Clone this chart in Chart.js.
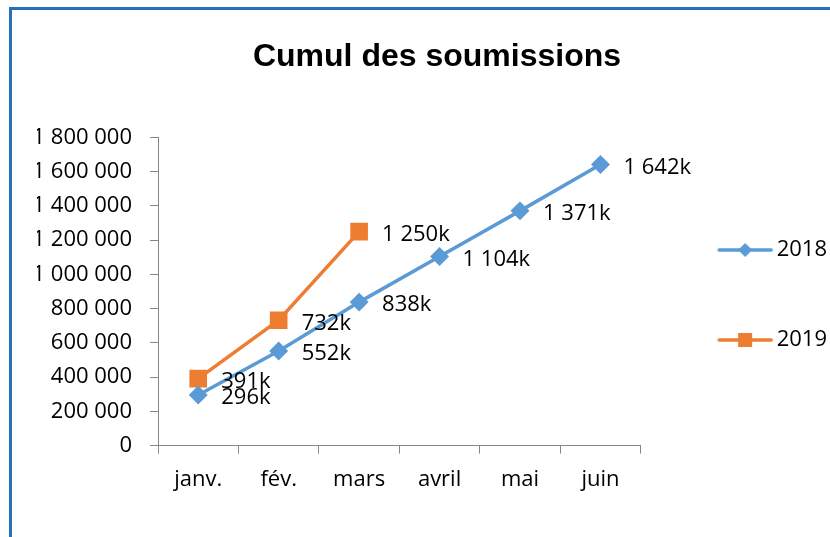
<!DOCTYPE html>
<html>
<head>
<meta charset="utf-8">
<script src="https://cdn.jsdelivr.net/npm/chart.js@4"></script>
<style>
  html, body { margin: 0; padding: 0; background: #fff; overflow: hidden; }
  #frame {
    position: absolute; left: 9px; top: 7px; width: 900px; height: 600px;
    border-left: 3px solid #2471b8; border-top: 3px solid #2471b8;
  }
  #wrap { position: absolute; left: 0; top: 0; width: 837px; height: 537px; }
</style>
</head>
<body>
<div id="frame"></div>
<div id="wrap"><canvas id="chart"></canvas></div>
<script>
// Cumulative submissions per month, 2018 vs 2019
const MONTHS      = ['janv.', 'fév.', 'mars', 'avril', 'mai', 'juin'];
const VALUES_2018 = [296000, 552000, 838000, 1104000, 1371000, 1642000];
const VALUES_2019 = [391000, 732000, 1250000, null, null, null];
const LABELS_2018 = ['296k', '552k', '838k', '1 104k', '1 371k', '1 642k'];
const LABELS_2019 = ['391k', '732k', '1 250k'];
const Y_MAX  = 1800000;
const Y_STEP = 200000;

const BLUE   = '#5b9bd5';
const ORANGE = '#ed7d31';
const FONT   = '"Open Sans", sans-serif';

// group thousands with a plain space: 1800000 -> "1 800 000"
const spaced = v => String(v).replace(/\B(?=(\d{3})+(?!\d))/g, ' ');

// legend swatch = short line with the marker in the middle.
// The image is wider than the legend box so the line sits a bit right of the box start.
function swatch(color, style) {
  const c = document.createElement('canvas');
  c.width = 76; c.height = 16;
  const g = c.getContext('2d');
  g.strokeStyle = color; g.lineWidth = 3.5; g.lineCap = 'round';
  g.beginPath(); g.moveTo(20, 8); g.lineTo(72, 8); g.stroke();
  g.fillStyle = color;
  if (style === 'diamond') {
    g.beginPath(); g.moveTo(46, 1); g.lineTo(53, 8); g.lineTo(46, 15); g.lineTo(39, 8); g.closePath(); g.fill();
  } else {
    g.fillRect(39, 1, 14, 14);
  }
  return c;
}

const valueLabels = {
  id: 'valueLabels',
  afterDatasetsDraw(chart) {
    const ctx = chart.ctx;
    ctx.save();
    ctx.font = '22px ' + FONT;
    ctx.fillStyle = '#000';
    ctx.textAlign = 'left';
    ctx.textBaseline = 'middle';
    chart.data.datasets.forEach((ds, i) => {
      chart.getDatasetMeta(i).data.forEach((pt, j) => {
        if (ds.data[j] == null) return;
        ctx.fillText(ds.valueLabels[j], pt.x + 23, pt.y + 3);
      });
    });
    ctx.restore();
  }
};

new Chart(document.getElementById('chart'), {
  type: 'line',
  data: {
    labels: MONTHS,
    datasets: [
      { label: '2018', data: VALUES_2018, valueLabels: LABELS_2018,
        borderColor: BLUE, backgroundColor: BLUE, borderWidth: 3.5,
        pointStyle: 'rectRot', pointRadius: 7, pointHoverRadius: 7,
        legendImg: swatch(BLUE, 'diamond') },
      { label: '2019', data: VALUES_2019, valueLabels: LABELS_2019,
        borderColor: ORANGE, backgroundColor: ORANGE, borderWidth: 3.5,
        pointStyle: 'rect', pointRadius: 10, pointHoverRadius: 10,
        legendImg: swatch(ORANGE, 'square') },
    ],
  },
  options: {
    responsive: true, maintainAspectRatio: false, animation: false,
    layout: { padding: { left: 37, right: 0, top: 0, bottom: 31 } },
    plugins: {
      title: {
        display: true, text: 'Cumul des soumissions', color: '#000',
        font: { family: '"Liberation Sans", Arial, sans-serif', size: 32, weight: 'bold' },
        padding: { top: 38, bottom: 61 },
      },
      legend: {
        position: 'right',
        title: { display: true, text: ' ', font: { size: 10 }, padding: { top: 0, bottom: 72 } },
        labels: {
          color: '#000', font: { family: FONT, size: 22 },
          usePointStyle: true, pointStyleWidth: 57, padding: 68,
          generateLabels: chart => chart.data.datasets.map((ds, i) => ({
            text: ds.label, datasetIndex: i, pointStyle: ds.legendImg,
            fillStyle: ds.borderColor, strokeStyle: ds.borderColor, lineWidth: 0,
            fontColor: '#000', hidden: false,
          })),
        },
      },
      tooltip: { enabled: false },
    },
    scales: {
      x: {
        offset: true,
        grid: { offset: true, drawOnChartArea: false, color: '#868686', tickLength: 8 },
        border: { color: '#868686', width: 1 },
        ticks: { color: '#000', font: { family: FONT, size: 22 }, padding: 13, maxRotation: 0 },
      },
      y: {
        min: 0, max: Y_MAX,
        afterFit: s => { s.width = 121; },
        grid: { drawOnChartArea: false, color: '#868686', tickLength: 8 },
        border: { color: '#868686', width: 1 },
        ticks: { stepSize: Y_STEP, color: '#000', font: { family: FONT, size: 22 }, padding: 18,
                 callback: v => spaced(v) },
      },
    },
  },
  plugins: [valueLabels],
});
</script>
</body>
</html>
